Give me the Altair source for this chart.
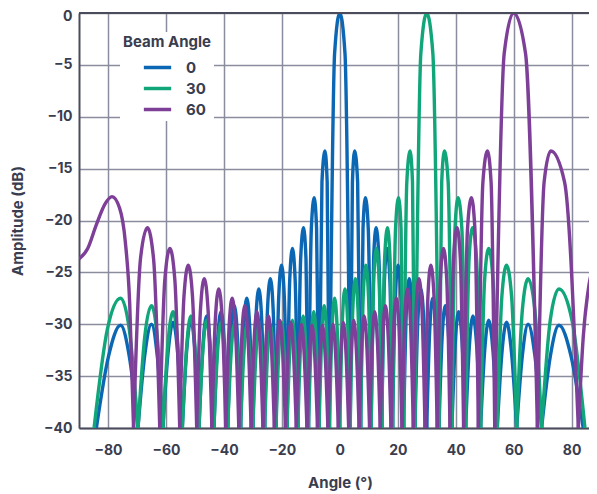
import altair as alt
import pandas as pd

# ---------------- data ----------------
beam_labels = ["0", "30", "60"]
beam_colors = ["#0b67b3", "#10a67a", "#7d3f97"]

# Beam 0: lobe edges (nulls, or -40 dB crossings at the two ends), peak angles and levels
b0_null_deg = [-84.0, -69.64, -61.04, -54.34, -48.59, -43.43, -38.68, -34.23, -30.0, -25.94,
               -22.02, -18.21, -14.48, -10.81, -7.18, -3.58, 3.58, 7.18, 10.81, 14.48, 18.21,
               22.02, 25.94, 30.0, 34.23, 38.68, 43.43, 48.59, 54.34, 61.04, 69.64, 84.0]
b0_peak_deg = [-75.64, -64.98, -57.53, -51.38, -45.95, -41.01, -36.42, -32.09, -27.95, -23.97,
               -20.11, -16.34, -12.53, -8.84, -5.13, 0.0, 5.13, 8.84, 12.53, 16.34, 20.11,
               23.97, 27.95, 32.09, 36.42, 41.01, 45.95, 51.38, 57.53, 64.98, 75.64]
b0_peak_db = [-30.1, -30.0, -29.8, -29.6, -29.2, -28.8, -28.2, -27.5, -26.6, -25.6,
              -24.3, -22.7, -20.7, -17.8, -13.3, 0.0, -13.3, -17.8, -20.7, -22.7, -24.3,
              -25.6, -26.6, -27.5, -28.2, -28.8, -29.2, -29.6, -29.8, -30.0, -30.1]

# Beam 30
b30_null_deg = [-84.8, -69.64, -61.04, -54.34, -48.59, -43.43, -38.68, -34.23, -30.0, -25.94,
                -22.02, -18.21, -14.48, -10.81, -7.18, -3.58, 0.0, 3.58, 7.18, 10.81, 14.48,
                18.21, 22.02, 25.94, 34.23, 38.68, 43.43, 48.59, 54.34, 61.04, 69.64, 84.6]
b30_peak_deg = [-75.64, -64.98, -57.53, -51.38, -45.95, -41.01, -36.42, -32.09, -27.95, -23.97,
                -20.11, -16.34, -12.64, -8.99, -5.38, -1.79, 1.79, 5.38, 8.99, 12.64, 16.45,
                20.26, 24.24, 30.0, 36.11, 40.82, 45.80, 51.38, 57.53, 64.98, 75.64]
b30_peak_db = [-27.5, -28.2, -28.8, -29.2, -29.6, -29.8, -30.0, -30.1, -30.1, -30.0,
               -29.8, -29.6, -29.2, -28.8, -28.2, -27.5, -26.6, -25.6, -24.3, -22.7, -20.7,
               -17.8, -13.3, 0.0, -13.3, -17.8, -20.7, -22.7, -24.3, -25.6, -26.6]

# Beam 60
b60_null_deg = [-71.17, -62.13, -55.24, -49.38, -44.15, -39.35, -34.85, -30.60, -26.52, -22.58,
                -18.75, -15.01, -11.33, -7.70, -4.10, -0.51, 3.07, 6.66, 10.28, 13.95, 17.67,
                21.47, 25.37, 29.41, 33.61, 38.03, 42.73, 47.82, 53.47, 68.20, 82.32]
b60_peak_deg = [-66.40, -58.62, -52.30, -46.78, -41.77, -37.14, -32.77, -28.60, -24.60, -20.71,
                -16.93, -13.22, -9.57, -5.95, -2.36, 1.22, 4.81, 8.41, 12.05, 15.74, 19.50,
                23.35, 27.31, 31.42, 35.79, 40.48, 45.42, 50.95, 60.0, 72.82]
b60_peak_db = [-20.7, -22.7, -24.3, -25.6, -26.6, -27.5, -28.2, -28.8, -29.2, -29.6,
               -29.8, -30.0, -30.1, -30.1, -30.0, -29.8, -29.6, -29.2, -28.8, -28.2, -27.5,
               -26.6, -25.6, -24.3, -22.7, -20.7, -17.8, -13.3, 0.0, -13.3]
# Beam 60 partial lobes at the two ends of the angle range
b60_left_edge_deg = [-90.0, -87.0, -84.0, -81.0, -78.6, -76.0, -74.0, -72.5, -71.17]
b60_left_edge_db = [-23.7, -22.7, -20.4, -18.4, -17.7, -18.8, -22.1, -28.0, -40.0]
b60_right_edge_deg = [82.32, 84.0, 86.0, 88.0, 90.0]
b60_right_edge_db = [-40.0, -31.3, -26.2, -24.2, -23.7]

# lobe shape: level at half-way between peak and lobe edge
shoulder_drop_db = 3.0
main_shoulder_drop_db = 3.9
floor_db = -40.0

x_ticks = [-80, -60, -40, -20, 0, 20, 40, 60, 80]
y_ticks = [0, -5, -10, -15, -20, -25, -30, -35, -40]

# ---------------- build table ----------------
rows = []


def add_lobes(beam, nulls, pdeg, pdb):
    for i, (a, d) in enumerate(zip(pdeg, pdb)):
        left, right = nulls[i], nulls[i + 1]
        drop = main_shoulder_drop_db if d == 0 else shoulder_drop_db
        pts = [(left, floor_db), ((left + a) / 2, d - drop), (a, d),
               ((a + right) / 2, d - drop), (right, floor_db)]
        for x, y in pts:
            rows.append({"beam": beam, "lobe": f"{beam}-{i}", "angle": x, "db": y})


add_lobes("0", b0_null_deg, b0_peak_deg, b0_peak_db)
add_lobes("30", b30_null_deg, b30_peak_deg, b30_peak_db)
add_lobes("60", b60_null_deg, b60_peak_deg, b60_peak_db)
for x, y in zip(b60_left_edge_deg, b60_left_edge_db):
    rows.append({"beam": "60", "lobe": "60-left", "angle": x, "db": y})
for x, y in zip(b60_right_edge_deg, b60_right_edge_db):
    rows.append({"beam": "60", "lobe": "60-right", "angle": x, "db": y})

df = pd.DataFrame(rows)

# ---------------- styling ----------------
FONT = "Inter"
TXT = "#3a3d4e"
DARK = "#4a4c5c"
GRID = "#8a8d9e"

x_axis = alt.Axis(
    values=x_ticks, grid=True, gridColor=GRID, gridWidth=1.5, gridOpacity=1,
    domainColor=DARK, domainWidth=2, ticks=False, labelPadding=15,
    labelFont=FONT, labelFontSize=14, labelFontWeight="bold", labelColor=TXT,
    title="Angle (°)", titleFont=FONT, titleFontSize=15, titleFontWeight="bold",
    titleColor=TXT, titleY=54, titleX=261, titleBaseline="middle",
)
y_axis = alt.Axis(
    values=y_ticks, grid=True, gridColor=GRID, gridWidth=1.5, gridOpacity=1,
    domainColor=DARK, domainWidth=2, ticks=False, labelPadding=7,
    labelOffset={"condition": {"test": "datum.value == 0", "value": 3}, "value": 0},
    labelFont=FONT, labelFontSize=14, labelFontWeight="bold", labelColor=TXT,
    title="Amplitude (dB)", titleFont=FONT, titleFontSize=15, titleFontWeight="bold",
    titleColor=TXT, titleX=-62, titleBaseline="middle",
)

color = alt.Color(
    "beam:N",
    scale=alt.Scale(domain=beam_labels, range=beam_colors),
    legend=alt.Legend(
        title="Beam Angle", orient="none", legendX=41, legendY=19,
        fillColor="white", padding=3,
        titleFont=FONT, titleFontSize=15, titleFontWeight="bold", titleColor=TXT,
        titlePadding=5,
        labelFont=FONT, labelFontSize=15, labelFontWeight="bold", labelColor=TXT,
        symbolType="M-1.3,0H1.3", symbolSize=441, symbolStrokeWidth=3.5,
        symbolOffset=22, labelOffset=16, rowPadding=0,
    ),
)

xs = alt.Scale(domain=[-90, 86], nice=False, zero=False)
ys = alt.Scale(domain=[-40, 0], nice=False, zero=False)

layers = []
for b in beam_labels:
    layers.append(
        alt.Chart(df[df["beam"] == b])
        .mark_line(interpolate="monotone", strokeWidth=3.4, clip=True)
        .encode(
            x=alt.X("angle:Q", scale=xs, axis=x_axis),
            y=alt.Y("db:Q", scale=ys, axis=y_axis),
            color=color,
            detail="lobe:N",
        )
    )

top_frame = (
    alt.Chart(pd.DataFrame({"db": [0]}))
    .mark_rule(color=DARK, strokeWidth=2)
    .encode(y=alt.Y("db:Q", scale=ys))
)

chart = (
    alt.layer(*layers, top_frame)
    .properties(
        width=510, height=415,
        autosize=alt.AutoSizeParams(type="none"),
        padding={"left": 71, "top": 5, "right": 0, "bottom": 70},
    )
    .configure_view(stroke=None)
    .configure(background="white")
)

chart.save("out.html", embed_options={"renderer": "svg", "actions": False})
